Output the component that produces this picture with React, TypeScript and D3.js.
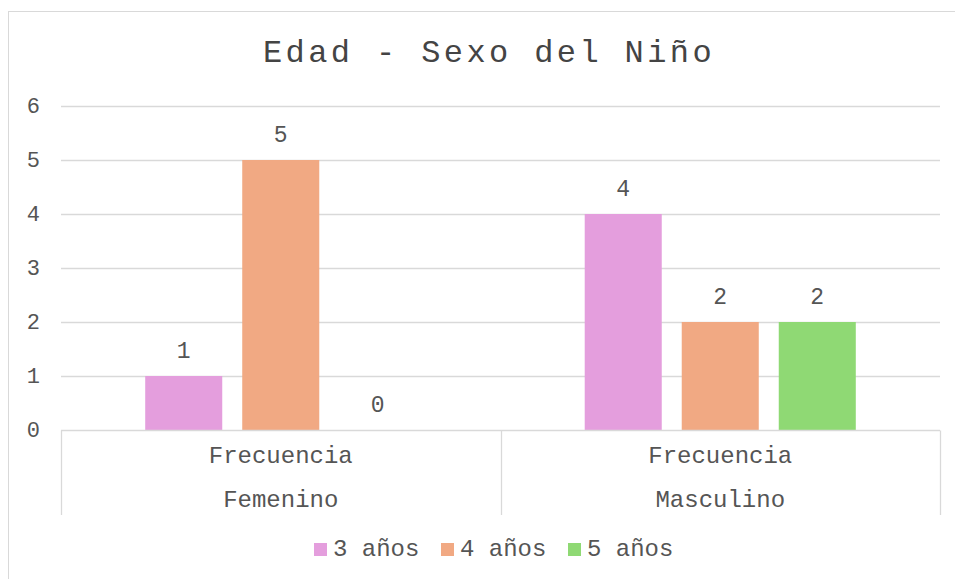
import React, { useRef, useEffect } from 'react'
import { select, scaleBand, scaleLinear, scaleOrdinal, range } from 'd3'

const categories = ['Femenino', 'Masculino']
const subLabels = ['Frecuencia', 'Frecuencia']
const seriesNames = ['3 años', '4 años', '5 años']
const values3 = [1, 4]
const values4 = [5, 2]
const values5 = [0, 2]
const yTicks = [0, 1, 2, 3, 4, 5, 6]
const colors = ['#E49EDD', '#F1A983', '#8FD974']

const FONT = "'Liberation Mono', 'Courier New', monospace"
const TEXT = '#555555'

export default function App() {
  const canvas = useRef(null)

  const W = 955
  const H = 579
  const margin = { top: 106, right: 15, bottom: 149, left: 61 }

  useEffect(() => {
    const svg = select(canvas.current)
    svg.selectAll('*').remove()

    const series = [values3, values4, values5]

    // chart frame
    svg.append('rect').attr('x', 8.5).attr('y', 11.5).attr('width', 980).attr('height', 620)
      .attr('fill', '#fff').attr('stroke', '#d9d9d9')

    svg.append('text').attr('x', 489).attr('y', 62).attr('text-anchor', 'middle')
      .attr('font-family', FONT).attr('font-size', 32).attr('letter-spacing', 3.4)
      .attr('fill', '#444').text('Edad - Sexo del Niño')

    const x0 = scaleBand().domain(categories).range([margin.left, W - margin.right])
    const x1 = scaleBand().domain(range(seriesNames.length).map(String))
      .range([0, x0.bandwidth()]).paddingInner(0.206).paddingOuter(0.868)
    const y = scaleLinear().domain([0, 6]).range([H - margin.bottom, margin.top])
    const color = scaleOrdinal().domain(seriesNames).range(colors)

    // gridlines
    svg.append('g').selectAll('line').data(yTicks.filter(d => d > 0)).enter().append('line')
      .attr('x1', margin.left).attr('x2', W - margin.right)
      .attr('y1', d => Math.round(y(d)) + 0.5).attr('y2', d => Math.round(y(d)) + 0.5)
      .attr('stroke', '#d9d9d9').attr('stroke-width', 1.3)

    svg.append('g').selectAll('text').data(yTicks).enter().append('text')
      .attr('x', 40).attr('y', d => y(d) + 7).attr('text-anchor', 'end')
      .attr('font-family', FONT).attr('font-size', 22).attr('fill', TEXT)
      .text(d => d)

    // bars
    const groups = svg.append('g').selectAll('g').data(categories).enter().append('g')
      .attr('transform', d => `translate(${x0(d)},0)`)

    groups.selectAll('rect').data((c, ci) => series.map((s, si) => ({ si, v: s[ci] })))
      .enter().append('rect')
      .attr('x', d => x1(String(d.si)))
      .attr('width', x1.bandwidth())
      .attr('y', d => y(d.v))
      .attr('height', d => y(0) - y(d.v))
      .attr('fill', d => color(seriesNames[d.si]))

    groups.selectAll('text').data((c, ci) => series.map((s, si) => ({ si, v: s[ci] })))
      .enter().append('text')
      .attr('x', d => x1(String(d.si)) + x1.bandwidth() / 2)
      .attr('y', d => y(d.v) - 18)
      .attr('text-anchor', 'middle')
      .attr('font-family', FONT).attr('font-size', 23).attr('fill', TEXT)
      .text(d => d.v)

    // category axis
    const axisY = Math.round(y(0)) + 0.5
    svg.append('line').attr('x1', margin.left).attr('x2', W - margin.right)
      .attr('y1', axisY).attr('y2', axisY).attr('stroke', '#d9d9d9').attr('stroke-width', 1.3)

    const dividers = [...categories.map(c => x0(c)), W - margin.right]
    svg.append('g').selectAll('line').data(dividers).enter().append('line')
      .attr('x1', d => Math.round(d) + 0.5).attr('x2', d => Math.round(d) + 0.5)
      .attr('y1', axisY).attr('y2', 515)
      .attr('stroke', '#d9d9d9').attr('stroke-width', 1.3)

    svg.append('g').selectAll('text').data(subLabels).enter().append('text')
      .attr('x', (d, i) => x0(categories[i]) + x0.bandwidth() / 2).attr('y', 463)
      .attr('text-anchor', 'middle').attr('font-family', FONT).attr('font-size', 24)
      .attr('fill', TEXT).text(d => d)

    svg.append('g').selectAll('text').data(categories).enter().append('text')
      .attr('x', d => x0(d) + x0.bandwidth() / 2).attr('y', 507)
      .attr('text-anchor', 'middle').attr('font-family', FONT).attr('font-size', 24)
      .attr('fill', TEXT).text(d => d)

    // legend
    const legend = svg.append('g').selectAll('g').data(seriesNames).enter().append('g')
      .attr('transform', (d, i) => `translate(${314 + i * 127},543)`)
    legend.append('rect').attr('width', 13).attr('height', 13).attr('fill', d => color(d))
    legend.append('text').attr('x', 19).attr('y', 13).attr('font-family', FONT)
      .attr('font-size', 24).attr('fill', TEXT).text(d => d)
  }, [])

  return (
    <svg ref={canvas} width={W} height={H} style={{ position: 'absolute', left: 0, top: 0, background: '#fff' }} />
  )
}
